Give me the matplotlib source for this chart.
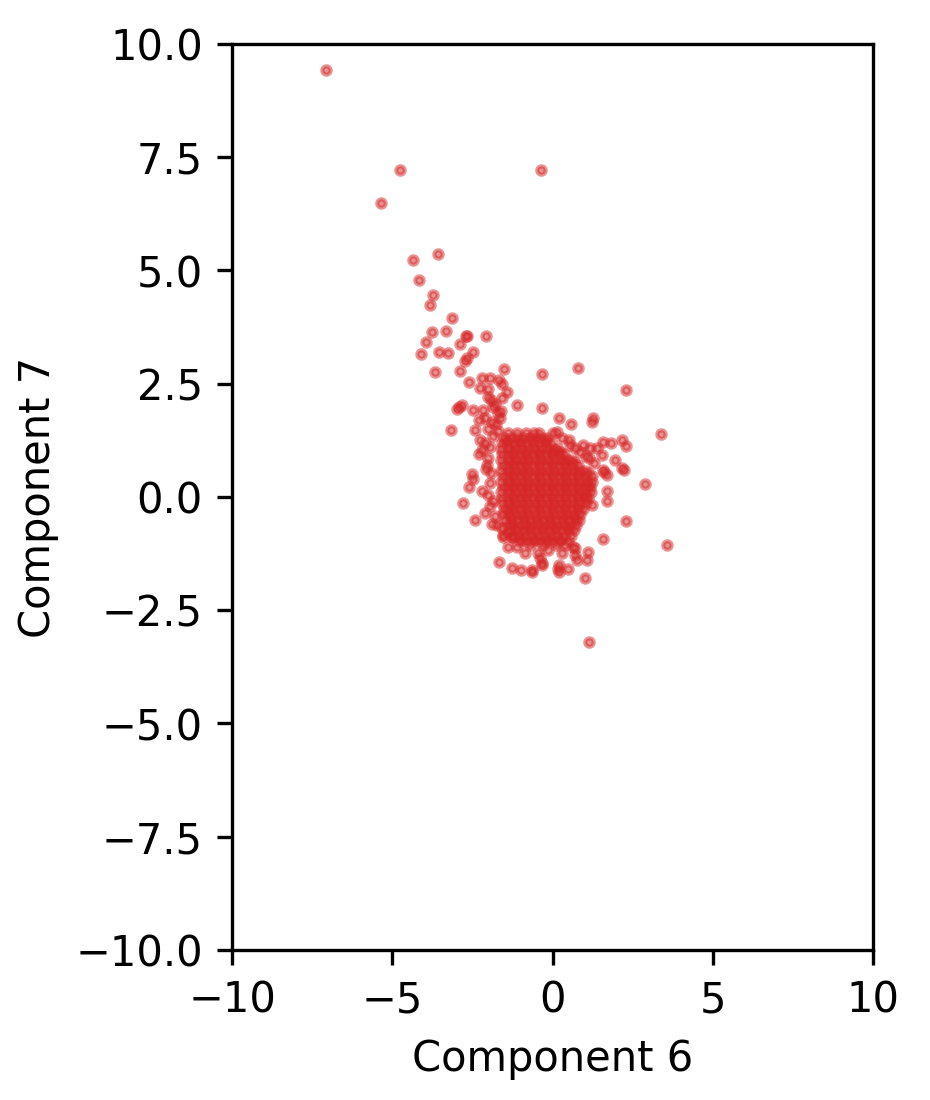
import numpy as np
import matplotlib
matplotlib.use("Agg")
import matplotlib.pyplot as plt

# points outside the dense core
outlier_x = [-7.06, -4.76, -0.36, -5.35, -3.57, -4.36, -4.17, -3.72, -3.82, -3.14,
             -3.76, -3.32, -2.71, -2.68, -2.07, -3.95, -2.89, -3.53, -3.25, -4.11,
             -2.47, -2.73, -2.67, -1.51, -3.66, -2.89, -0.33, 0.81, 2.29, -2.61,
             -2.21, -1.95, -1.66, -2.26, -2.00, -1.59, -1.43, -1.93, -1.59, -2.91,
             -2.97, -2.49, -2.83, -3.17, -0.32, 0.21, 0.58, 1.25, 1.22, 3.39,
             1.59, 1.82, 2.16, 2.29, 1.17, 1.53, 1.15, 1.95, 2.16, 2.23,
             1.59, 1.69, 1.62, 2.89, 1.69, 1.71, 1.24, 2.29, 3.56, 1.56,
             1.01, 1.14, 1.12, 1.07, 0.70, 0.75, 0.49, 0.16, 0.21, -0.32,
             -0.63, -0.98, -1.27, -1.67, -0.86, -1.12, -1.40, -2.41, -2.78, -2.19,
             -2.61, -2.52, -2.47, -2.07, -1.92, -1.95, -1.79, -1.53, -1.27, -2.16,
             -1.85, -1.12, -2.42, -2.26, -2.21, 0.13, 0.03, 0.55, 0.70, 1.38,
             -0.34, -0.39, -0.65, -1.53, -1.85, -1.74, -1.58, -1.38, -1.22, 0.20,
             -0.44, -0.13, 0.29, 0.65, 0.70, -2.00, -1.80, -1.70, -2.10, -1.90,
             -2.30, -2.00, -1.85, -2.10, -1.95, -2.30, -2.00, -2.05, -1.95, -2.00,
             -2.10, -1.90, 0.30, 0.50, 0.85, 1.05, 1.30, 0.95, -1.75, -1.65,
             -1.70, -1.60]
outlier_y = [9.42, 7.22, 7.22, 6.49, 5.36, 5.23, 4.78, 4.46, 4.24, 3.96,
             3.64, 3.67, 3.55, 3.56, 3.56, 3.42, 3.38, 3.20, 3.17, 3.16,
             3.19, 2.99, 3.07, 2.83, 2.76, 2.78, 2.71, 2.84, 2.35, 2.53,
             2.62, 2.62, 2.58, 2.40, 2.38, 2.49, 2.31, 2.14, 2.18, 1.99,
             1.94, 1.92, 2.03, 1.48, 1.97, 1.74, 1.60, 1.74, 1.65, 1.39,
             1.22, 1.19, 1.26, 1.13, 1.07, 0.93, 0.85, 0.82, 0.63, 0.60,
             0.60, 0.49, 0.55, 0.29, 0.12, -0.10, -0.18, -0.53, -1.06, -0.93,
             -1.78, -3.21, -1.21, -1.39, -1.13, -1.39, -1.60, -1.60, -1.50, -1.50,
             -1.61, -1.61, -1.57, -1.43, -1.23, -1.10, -1.11, -0.51, -0.13, 0.13,
             0.21, 0.51, 0.40, 0.61, 0.52, -0.19, -0.43, -0.88, -0.88, 1.92,
             1.99, 2.03, 1.48, 1.26, 1.04, 1.44, 1.41, 1.15, 1.07, 1.07,
             -1.46, -1.35, -1.65, -0.84, -0.10, -0.62, -0.69, -0.77, -0.88, -1.65,
             -1.24, -1.17, -1.24, -1.10, -1.28, 2.20, 2.05, 1.85, 1.75, 1.65,
             1.70, 1.50, 1.35, 1.20, 1.10, 0.95, 0.85, 0.70, 0.30, 0.05,
             -0.35, -0.60, 1.30, 1.25, 1.00, 0.90, 0.75, 1.15, 1.60, 1.75,
             1.45, 1.90]

# dense core, one row of points per y level
core_rows = [
    (1.42, [-1.38, -1.12, -0.82, -0.58, -0.41]),
    (1.30, [-1.52, -1.30, -1.10, -0.90, -0.70, -0.50, -0.33, -0.18]),
    (1.24, [-1.45, -1.00, -0.60, -0.22]),
    (1.18, [-1.58, -1.40, -1.20, -1.00, -0.80, -0.60, -0.40, -0.20, -0.04]),
    (1.06, [-1.62, -1.35, -1.15, -0.95, -0.75, -0.55, -0.35, -0.15, 0.05, 0.16]),
    (1.00, [-1.25, -0.85, -0.45, -0.05, 0.22]),
    (0.94, [-1.57, -1.40, -1.20, -1.00, -0.80, -0.60, -0.40, -0.20, 0.00, 0.20, 0.36]),
    (0.82, [-1.60, -1.35, -1.15, -0.95, -0.75, -0.55, -0.35, -0.15, 0.05, 0.25, 0.45, 0.58]),
    (0.76, [-1.25, -0.85, -0.45, -0.05, 0.35, 0.66]),
    (0.70, [-1.54, -1.40, -1.20, -1.00, -0.80, -0.60, -0.40, -0.20, 0.00, 0.20, 0.40, 0.60, 0.80]),
    (0.58, [-1.60, -1.35, -1.15, -0.95, -0.75, -0.55, -0.35, -0.15, 0.05, 0.25, 0.45, 0.65, 0.85, 1.02]),
    (0.52, [-1.25, -0.85, -0.45, -0.05, 0.35, 0.75, 1.12]),
    (0.46, [-1.56, -1.40, -1.20, -1.00, -0.80, -0.60, -0.40, -0.20, 0.00, 0.20, 0.40, 0.60, 0.80, 1.00, 1.22]),
    (0.34, [-1.60, -1.35, -1.15, -0.95, -0.75, -0.55, -0.35, -0.15, 0.05, 0.25, 0.45, 0.65, 0.85, 1.05, 1.24]),
    (0.28, [-1.25, -0.85, -0.45, -0.05, 0.35, 0.75, 1.12]),
    (0.22, [-1.54, -1.40, -1.20, -1.00, -0.80, -0.60, -0.40, -0.20, 0.00, 0.20, 0.40, 0.60, 0.80, 1.00, 1.18]),
    (0.10, [-1.60, -1.35, -1.15, -0.95, -0.75, -0.55, -0.35, -0.15, 0.05, 0.25, 0.45, 0.65, 0.85, 1.05, 1.20]),
    (0.04, [-1.25, -0.85, -0.45, -0.05, 0.35, 0.75, 1.00]),
    (-0.02, [-1.57, -1.40, -1.20, -1.00, -0.80, -0.60, -0.40, -0.20, 0.00, 0.20, 0.40, 0.60, 0.80, 1.00, 1.12]),
    (-0.14, [-1.58, -1.35, -1.15, -0.95, -0.75, -0.55, -0.35, -0.15, 0.05, 0.25, 0.45, 0.65, 0.85, 1.03]),
    (-0.20, [-1.25, -0.85, -0.45, -0.05, 0.35, 0.75]),
    (-0.26, [-1.52, -1.40, -1.20, -1.00, -0.80, -0.60, -0.40, -0.20, 0.00, 0.20, 0.40, 0.60, 0.80, 0.96]),
    (-0.38, [-1.55, -1.35, -1.15, -0.95, -0.75, -0.55, -0.35, -0.15, 0.05, 0.25, 0.45, 0.65, 0.87]),
    (-0.44, [-1.25, -0.85, -0.45, -0.05, 0.35, 0.70]),
    (-0.50, [-1.47, -1.30, -1.10, -0.90, -0.70, -0.50, -0.30, -0.10, 0.10, 0.30, 0.50, 0.70, 0.82]),
    (-0.62, [-1.40, -1.25, -1.05, -0.85, -0.65, -0.45, -0.25, -0.05, 0.15, 0.35, 0.55, 0.72]),
    (-0.68, [-1.15, -0.75, -0.35, 0.05, 0.45]),
    (-0.74, [-1.33, -1.10, -0.90, -0.70, -0.50, -0.30, -0.10, 0.10, 0.30, 0.50, 0.66]),
    (-0.86, [-1.22, -1.05, -0.85, -0.65, -0.45, -0.25, -0.05, 0.15, 0.35, 0.57]),
    (-0.92, [-0.95, -0.55, -0.15, 0.25]),
    (-0.98, [-1.02, -0.80, -0.60, -0.40, -0.20, 0.00, 0.20, 0.47]),
    (-1.06, [-0.70, -0.30, 0.12, 0.38]),
]

core_x = [x for y, xs in core_rows for x in xs]
core_y = [y for y, xs in core_rows for x in xs]

comp6 = np.array(outlier_x + core_x)
comp7 = np.array(outlier_y + core_y)

fig = plt.figure(figsize=(3.1, 3.667), dpi=300)
ax = fig.add_axes([0.2495, 0.1364, 0.6892, 0.8236])
ax.scatter(comp6, comp7, s=4, linewidths=1.0, color='tab:red', alpha=0.5)
ax.set_xlim(-10, 10)
ax.set_ylim(-10, 10)
ax.set_xlabel("Component 6")
ax.set_ylabel("Component 7")
fig.savefig("out.png", dpi=300)
